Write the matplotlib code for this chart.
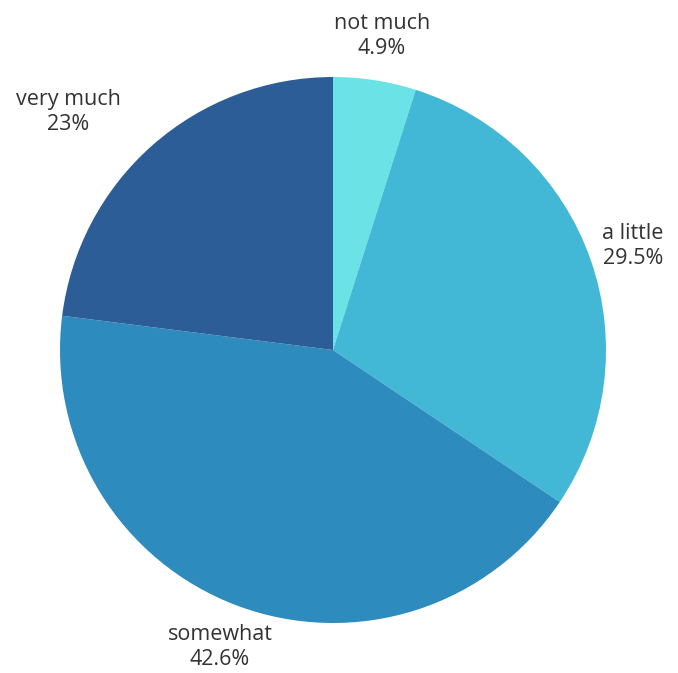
import matplotlib
matplotlib.use('Agg')
import matplotlib.pyplot as plt

# survey answers, clockwise from 12 o'clock
labels = ['not much', 'a little', 'somewhat', 'very much']
shares = [4.9, 29.5, 42.6, 23]
pct_text = ['4.9%', '29.5%', '42.6%', '23%']
colors = ['#6ae2e6', '#42b8d6', '#2e8bbd', '#2d5d96']

W, H = 678, 673
fig = plt.figure(figsize=(W / 100, H / 100), dpi=100)
ax = fig.add_axes([0, 0, 1, 1])

ax.pie(shares, colors=colors, startangle=90, counterclock=False,
       center=(333, H - 350), radius=273, frame=True,
       wedgeprops={'linewidth': 0})
ax.set_xlim(0, W)
ax.set_ylim(0, H)
ax.set_aspect('equal')
ax.axis('off')

# label spots in pixel coords (x, y from top)
spots = [(382, 36), (633, 246), (220, 647), (68, 112)]
for name, pct, (x, y) in zip(labels, pct_text, spots):
    ax.text(x, H - y, f'{name}\n{pct}', ha='center', va='center',
            fontsize=15.5, color='#333333', family='Open Sans',
            linespacing=1.3)

fig.savefig('out.png', dpi=100, facecolor='white')
